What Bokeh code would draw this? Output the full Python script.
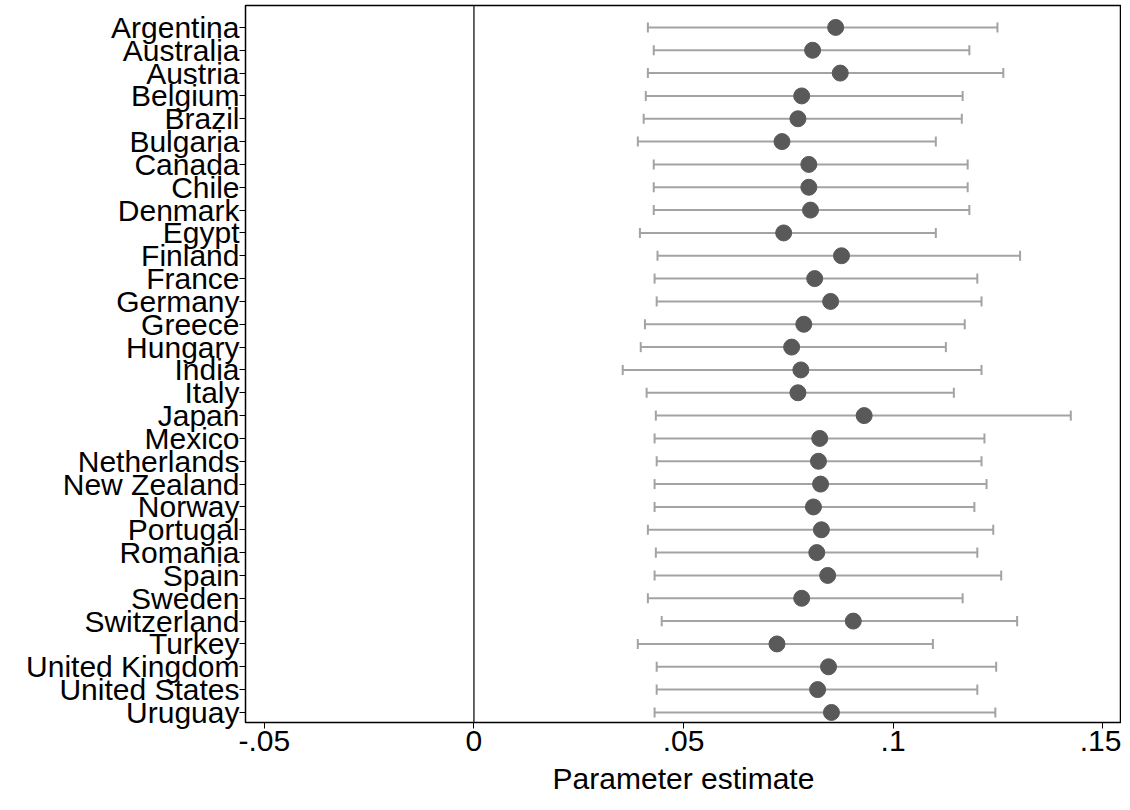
from bokeh.plotting import figure
from bokeh.models import Range1d, FixedTicker, Span
from bokeh.embed import file_html
from bokeh.resources import INLINE

countries = ["Argentina", "Australia", "Austria", "Belgium", "Brazil", "Bulgaria", "Canada",
             "Chile", "Denmark", "Egypt", "Finland", "France", "Germany", "Greece", "Hungary",
             "India", "Italy", "Japan", "Mexico", "Netherlands", "New Zealand", "Norway",
             "Portugal", "Romania", "Spain", "Sweden", "Switzerland", "Turkey",
             "United Kingdom", "United States", "Uruguay"]
estimate = [.0863, .0808, .0874, .0782, .0773, .0735, .0799, .0799, .0803, .0739, .0877, .0813,
            .0851, .0787, .0758, .0780, .0773, .0931, .0825, .0822, .0827, .0810, .0829, .0818,
            .0844, .0782, .0905, .0723, .0846, .0820, .0853]
lower = [.0415, .0429, .0415, .0410, .0405, .0391, .0429, .0429, .0429, .0396, .0438, .0431,
         .0436, .0408, .0398, .0355, .0412, .0434, .0431, .0436, .0431, .0431, .0415, .0434,
         .0431, .0415, .0448, .0391, .0436, .0436, .0431]
upper = [.1249, .1182, .1263, .1166, .1164, .1102, .1178, .1178, .1182, .1102, .1303, .1201,
         .1211, .1171, .1126, .1211, .1145, .1424, .1218, .1211, .1223, .1194, .1239, .1201,
         .1258, .1166, .1296, .1095, .1246, .1201, .1244]
x_ticks = [-0.05, 0, 0.05, 0.1, 0.15]
x_tick_labels = ["-.05", "0", ".05", ".1", ".15"]

ys = list(range(len(countries)))
font = "Liberation Sans"

p = figure(frame_width=876, frame_height=717, output_backend="svg", toolbar_location=None,
           x_range=Range1d(-0.0545, 0.1545), y_range=Range1d(len(countries) - 0.56, -0.96),
           x_axis_label="Parameter estimate", min_border_left=245, min_border_top=5,
           min_border_right=0, min_border_bottom=0)
p.grid.visible = False
p.outline_line_color = "black"
p.outline_line_width = 1.5

p.add_layout(Span(location=0, dimension="height", line_color="#333333", line_width=1.5))

gray = "#a3a3a3"
p.segment(x0=lower, x1=upper, y0=ys, y1=ys, line_color=gray, line_width=2)
p.segment(x0=lower, x1=lower, y0=[y - 0.22 for y in ys], y1=[y + 0.22 for y in ys],
          line_color=gray, line_width=2)
p.segment(x0=upper, x1=upper, y0=[y - 0.22 for y in ys], y1=[y + 0.22 for y in ys],
          line_color=gray, line_width=2)
p.scatter(x=estimate, y=ys, size=16, fill_color="#595959", line_color="#595959")

p.xaxis.ticker = FixedTicker(ticks=x_ticks)
p.xaxis.major_label_overrides = {t: l for t, l in zip(x_ticks, x_tick_labels)}
p.yaxis.ticker = FixedTicker(ticks=ys)
p.yaxis.major_label_overrides = {i: c for i, c in enumerate(countries)}
for ax in (p.xaxis[0], p.yaxis[0]):
    ax.major_label_text_font = font
    ax.major_label_text_font_size = "30px"
    ax.major_label_text_color = "black"
    ax.axis_line_color = None
    ax.minor_tick_line_color = None
    ax.major_tick_line_color = "black"
    ax.major_tick_out = 6
    ax.major_tick_in = 0
p.xaxis.axis_label_text_font = font
p.xaxis.axis_label_text_font_size = "30px"
p.xaxis.axis_label_text_font_style = "normal"
p.xaxis.axis_label_text_color = "black"
p.xaxis.axis_label_standoff = 8
p.xaxis.major_label_standoff = 2
p.yaxis.major_label_standoff = 0

open("out.html", "w").write(file_html(p, INLINE))
